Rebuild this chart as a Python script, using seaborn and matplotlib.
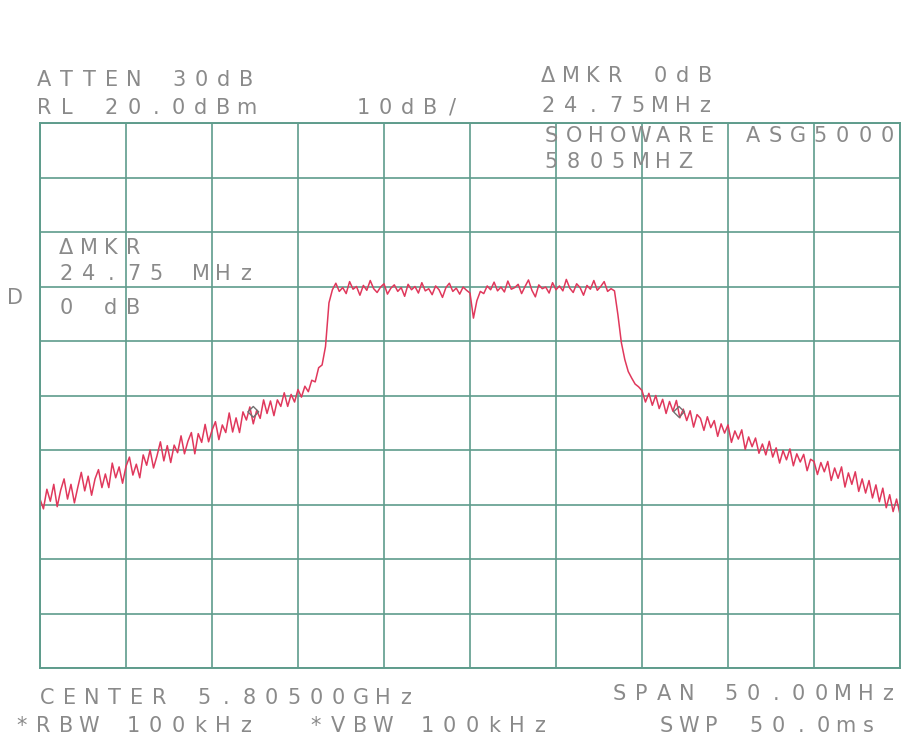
import numpy as np
import pandas as pd
import matplotlib
matplotlib.use("Agg")
import matplotlib.pyplot as plt
import seaborn as sns

# Sweep settings (MHz)
freq_start_mhz = 5780.0
freq_step_mhz = 0.2

# Trace level per sweep point (dBm), 251 points from 5780 to 5830 MHz
level_dbm = [
    -49.0, -50.8, -47.2, -49.4, -46.3, -50.4, -47.4, -45.3, -49.0, -46.3,
    -49.7, -46.8, -44.1, -47.5, -44.8, -48.3, -45.3, -43.6, -46.9, -44.4,
    -46.9, -42.4, -45.1, -43.1, -46.1, -43.0, -41.3, -44.6, -42.6, -45.1,
    -40.9, -42.8, -40.0, -43.3, -41.1, -38.5, -42.0, -39.2, -42.3, -39.1,
    -40.5, -37.4, -40.7, -38.4, -36.8, -40.7, -37.0, -38.6, -35.3, -38.5,
    -36.4, -34.8, -38.1, -35.4, -36.8, -33.2, -36.7, -34.1, -36.8, -33.0,
    -34.5, -32.1, -35.2, -32.7, -34.2, -30.8, -33.3, -31.0, -33.7, -30.8,
    -32.0, -29.5, -32.0, -29.8, -31.2, -28.9, -30.3, -28.3, -29.3, -27.2,
    -27.5, -24.9, -24.4, -21.0, -13.0, -10.6, -9.4, -10.9, -10.2, -11.3,
    -9.1, -10.5, -10.0, -11.6, -9.8, -10.7, -8.9, -10.4, -11.1, -10.1,
    -9.5, -11.4, -10.3, -9.7, -10.9, -10.2, -11.8, -9.6, -10.6, -10.0,
    -11.2, -9.3, -10.8, -10.4, -11.5, -9.9, -10.6, -12.0, -10.2, -9.4,
    -10.9, -10.3, -11.4, -10.1, -10.7, -11.2, -15.8, -12.6, -10.9, -11.3,
    -9.9, -10.6, -9.2, -10.8, -10.1, -11.0, -9.0, -10.5, -10.2, -9.6,
    -11.3, -10.0, -8.8, -10.7, -11.9, -9.7, -10.4, -10.1, -11.2, -9.3,
    -10.6, -9.9, -10.8, -8.7, -10.3, -11.1, -9.5, -10.2, -11.6, -9.8,
    -10.5, -8.9, -10.7, -10.0, -9.1, -10.9, -10.4, -10.8, -15.2, -20.3,
    -23.4, -25.6, -26.8, -27.9, -28.4, -29.1, -31.2, -29.6, -31.8, -30.0,
    -32.4, -30.7, -33.3, -31.1, -32.9, -30.9, -34.1, -32.5, -34.6, -32.8,
    -35.8, -33.5, -34.2, -36.4, -33.9, -35.9, -34.6, -37.5, -35.2, -36.9,
    -35.4, -38.6, -36.5, -38.0, -36.3, -39.9, -37.6, -39.4, -37.8, -40.6,
    -38.9, -40.9, -38.4, -41.3, -39.6, -42.4, -40.1, -41.8, -39.8, -42.9,
    -40.7, -42.2, -40.8, -43.8, -41.7, -42.1, -44.5, -42.3, -44.0, -42.1,
    -45.6, -43.3, -45.2, -43.1, -46.8, -44.2, -46.3, -44.0, -47.6, -45.3,
    -47.9, -45.6, -48.8, -46.4, -49.5, -47.0, -50.6, -48.2, -51.3, -49.0,
    -51.8,
]

# Delta marker pair (MHz, dBm)
marker_mhz = [5792.4, 5817.15]
marker_db = [-33.0, -33.0]

# Graticule
x_ticks = [5780, 5785, 5790, 5795, 5800, 5805, 5810, 5815, 5820, 5825, 5830]
y_ticks = [-80, -70, -60, -50, -40, -30, -20, -10, 0, 10, 20]

# Screen annotations
atten_text = "ATTEN 30dB"
ref_level_text = "RL 20.0dBm"
scale_text = "10dB/"
mkr_text = "ΔMKR 0dB"
mkr_freq_text = "24.75MHz"
title_text = "SOHOWARE ASG5000"
title_freq_text = "5805MHZ"
box_mkr_text = "ΔMKR"
box_freq_text = "24.75 MHz"
box_level_text = "0 dB"
side_text = "D"
center_text = "CENTER 5.80500GHz"
span_text = "SPAN 50.00MHz"
rbw_text = "*RBW 100kHz"
vbw_text = "*VBW 100kHz"
sweep_text = "SWP 50.0ms"

W, H = 903, 738
GRID = "#5f9c8c"
TRACE = "#e0385c"
INK = "#8a8a8a"

sns.set_theme(style="white")
plt.rcParams["font.family"] = ["DejaVu Sans"]

fig = plt.figure(figsize=(W / 100, H / 100), dpi=100)
fig.patch.set_facecolor("white")
ax = fig.add_axes([40 / W, 70 / H, 860 / W, 545 / H])
ax.set_facecolor("white")

freq = freq_start_mhz + freq_step_mhz * np.arange(len(level_dbm))
trace = pd.DataFrame({"freq": freq, "level": level_dbm})

sns.lineplot(data=trace, x="freq", y="level", estimator=None, sort=False,
             color=TRACE, linewidth=1.1, ax=ax)
sns.scatterplot(x=marker_mhz, y=marker_db, marker="D", s=30,
                facecolor="none", edgecolor="#707070", linewidth=1.0, ax=ax, zorder=5)

ax.set_xlim(x_ticks[0], x_ticks[-1])
ax.set_ylim(y_ticks[0], y_ticks[-1])
ax.set_xticks(x_ticks)
ax.set_yticks(y_ticks)
ax.grid(True, color=GRID, linewidth=1.2)
ax.tick_params(length=0, labelbottom=False, labelleft=False)
ax.set_xlabel("")
ax.set_ylabel("")
for sp in ax.spines.values():
    sp.set_color(GRID)
    sp.set_linewidth(1.4)


def plotter_text(x_px, y_px, s, pitch=22.4, size=15, color=INK):
    """Write a string on a fixed character pitch, like a pen plotter."""
    base = y_px + 7.5
    for k, ch in enumerate(s):
        if ch == " ":
            continue
        fig.text((x_px + pitch * (k + 0.5)) / W, 1 - base / H, ch,
                 ha="center", va="baseline", fontsize=size, color=color)


plotter_text(33, 78, atten_text)
plotter_text(33, 106, ref_level_text)
plotter_text(352, 106, scale_text)
plotter_text(537, 75, mkr_text)
plotter_text(537, 104, mkr_freq_text)
plotter_text(540, 134, title_text)
plotter_text(540, 161, title_freq_text)
plotter_text(55, 246, box_mkr_text)
plotter_text(55, 272, box_freq_text)
plotter_text(55, 306, box_level_text)
plotter_text(4, 296, side_text)
plotter_text(36, 697, center_text)
plotter_text(608, 693, span_text)
plotter_text(10, 724, rbw_text)
plotter_text(304, 724, vbw_text)
plotter_text(655, 724, sweep_text)

fig.savefig("out.png", dpi=100, facecolor="white")
